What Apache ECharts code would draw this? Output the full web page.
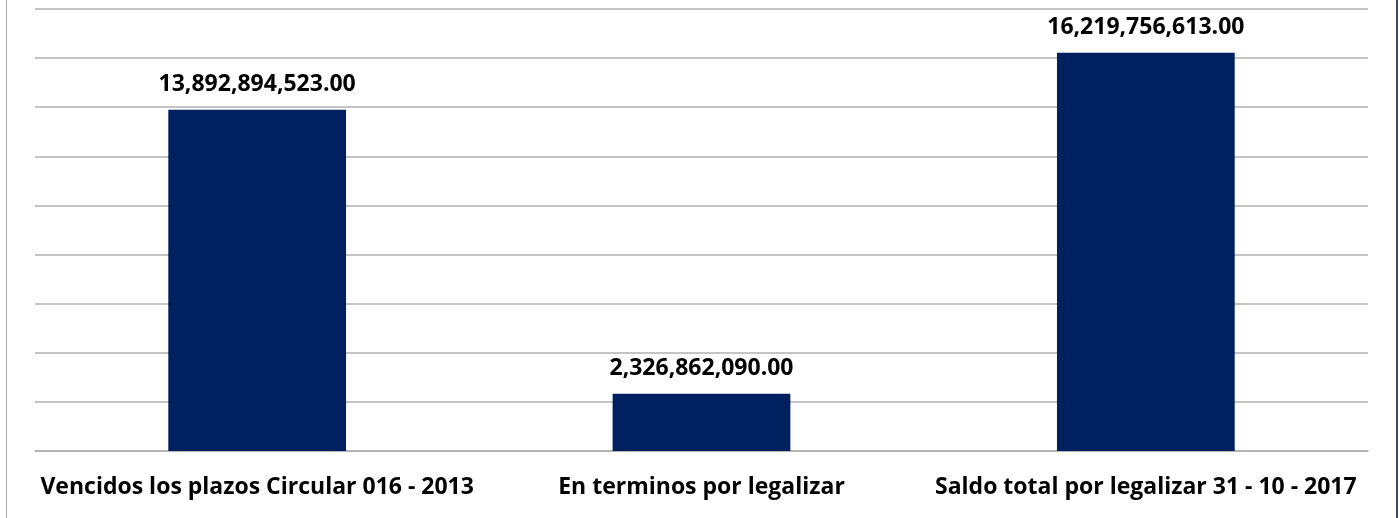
<!DOCTYPE html>
<html><head><meta charset="utf-8">
<script src="https://cdn.jsdelivr.net/npm/echarts@6/dist/echarts.min.js"></script>
<style>
html,body{margin:0;padding:0;background:#fff;}
#frame{position:absolute;left:6px;top:0;width:1389px;height:518px;border-left:1px solid #a6a6a6;border-right:2px solid #3b4a6b;}
#c{position:absolute;left:0;top:0;width:1399px;height:518px;}
</style></head>
<body><div id="frame"></div><div id="c"></div>
<script>
const categories = ["Vencidos los plazos Circular 016 - 2013", "En terminos por legalizar", "Saldo total por legalizar 31 - 10 - 2017"];
const values = [13892894523.00, 2326862090.00, 16219756613.00];
const yMax = 18000000000;
const yInterval = 2000000000;

function fmt(v){
  return v.toLocaleString('en-US',{minimumFractionDigits:2,maximumFractionDigits:2});
}
const chart = echarts.init(document.getElementById('c'));
chart.setOption({
  animation:false,
  grid:{left:35,right:31,top:9,bottom:67,containLabel:false},
  xAxis:{type:'category',data:categories,
    axisLine:{show:true,lineStyle:{color:'#b0b0b0',width:1.5}},
    axisTick:{show:false},
    axisLabel:{interval:0,margin:25,color:'#000',fontFamily:'Open Sans',fontWeight:'bold',fontSize:23}},
  yAxis:{type:'value',min:0,max:yMax,interval:yInterval,
    axisLabel:{show:false},axisLine:{show:false},axisTick:{show:false},
    splitLine:{lineStyle:{color:'#b0b0b0',width:1.5}}},
  series:[{type:'bar',data:values,barWidth:'40%',
    itemStyle:{color:'#012060'},
    label:{show:true,position:'top',distance:14,color:'#000',fontFamily:'Open Sans',fontWeight:'bold',fontSize:23,
      formatter:p=>fmt(p.value)}}]
});
</script></body></html>
